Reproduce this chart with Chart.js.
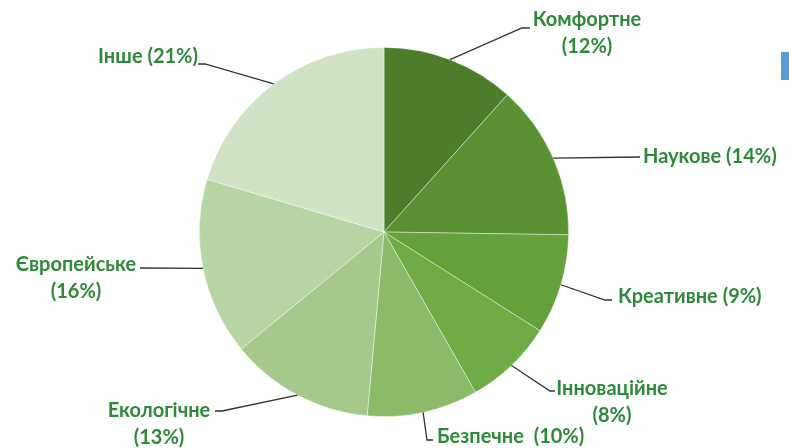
<!DOCTYPE html>
<html>
<head>
<meta charset="utf-8">
<script src="https://cdn.jsdelivr.net/npm/chart.js@4.4.0/dist/chart.umd.min.js"></script>
<style>
  body { margin: 0; background: #fff; }
  #wrap { position: relative; width: 789px; height: 448px; }
  #edge { position: absolute; left: 781px; top: 52px; width: 8px; height: 28px; background: #5b9bd5; }
</style>
</head>
<body>
<div id="wrap">
  <canvas id="myChart"></canvas>
  <div id="edge"></div>
</div>
<script>
// data
const categories = ['Комфортне', 'Наукове', 'Креативне', 'Інноваційне', 'Безпечне', 'Екологічне', 'Європейське', 'Інше']
const shares = [12, 14, 9, 8, 10, 13, 16, 21]
const sliceColors = ['#4b7d2b', '#5a9233', '#63a23a', '#6fac46', '#8bbb69', '#a5c98b', '#b7d4a3', '#d1e3c4']

// where each label sits: elbow of the leader line, end of the line, text anchor
const labelLayout = [
  { elbow: [522, 28], end: [530, 28], x: 587, y: 20, align: 'center', split: true },
  { elbow: [640, 157], end: [640, 157], x: 643, y: 157, align: 'left', split: false },
  { elbow: [605, 300], end: [612, 300], x: 618, y: 297, align: 'left', split: false },
  { elbow: [550, 391], end: [555, 391], x: 612, y: 389, align: 'center', split: true },
  { elbow: [427, 440], end: [433, 440], x: 437, y: 437, align: 'left', split: false },
  { elbow: [222, 411], end: [215, 411], x: 159, y: 411, align: 'center', split: true },
  { elbow: [140, 268], end: [140, 268], x: 76, y: 265, align: 'center', split: true },
  { elbow: [205, 64], end: [198, 64], x: 198, y: 57, align: 'right', split: false }
]

const leaderLabels = {
  id: 'leaderLabels',
  afterDraw(chart) {
    const ctx = chart.ctx
    const arcs = chart.getDatasetMeta(0).data
    ctx.save()
    arcs.forEach(function(arc, i) {
      const p = arc.getProps(['x', 'y', 'startAngle', 'endAngle', 'outerRadius'], true)
      const mid = (p.startAngle + p.endAngle) / 2
      const sx = p.x + Math.cos(mid) * p.outerRadius
      const sy = p.y + Math.sin(mid) * p.outerRadius
      const lay = labelLayout[i]
      ctx.strokeStyle = '#333'
      ctx.lineWidth = 1.3
      ctx.beginPath()
      ctx.moveTo(sx, sy)
      ctx.lineTo(lay.elbow[0], lay.elbow[1])
      ctx.lineTo(lay.end[0], lay.end[1])
      ctx.stroke()

      ctx.fillStyle = '#2e8a3a'
      ctx.font = 'bold 20px Lato, "Open Sans", sans-serif'
      ctx.textAlign = lay.align
      ctx.textBaseline = 'middle'
      const pct = '(' + shares[i] + '%)'
      if (lay.split) {
        ctx.fillText(categories[i], lay.x, lay.y)
        ctx.fillText(pct, lay.x, lay.y + 27)
      } else {
        // the original has a wider gap before the share for Безпечне
        ctx.fillText(categories[i] + (i === 4 ? '  ' : ' ') + pct, lay.x, lay.y)
      }
    })
    ctx.restore()
  }
}

var ctx = document.getElementById('myChart').getContext('2d')
var myChart = new Chart(ctx, {
  type: 'pie',
  data: {
    labels: categories,
    datasets: [{
      data: shares,
      backgroundColor: sliceColors,
      borderColor: 'rgba(255,255,255,0.5)',
      borderWidth: 0.8
    }]
  },
  options: {
    responsive: true,
    maintainAspectRatio: false,
    animation: false,
    layout: { padding: { left: 199, right: 220, top: 47, bottom: 31 } },
    plugins: {
      legend: { display: false },
      tooltip: { enabled: false }
    }
  },
  plugins: [leaderLabels]
})
</script>
</body>
</html>
